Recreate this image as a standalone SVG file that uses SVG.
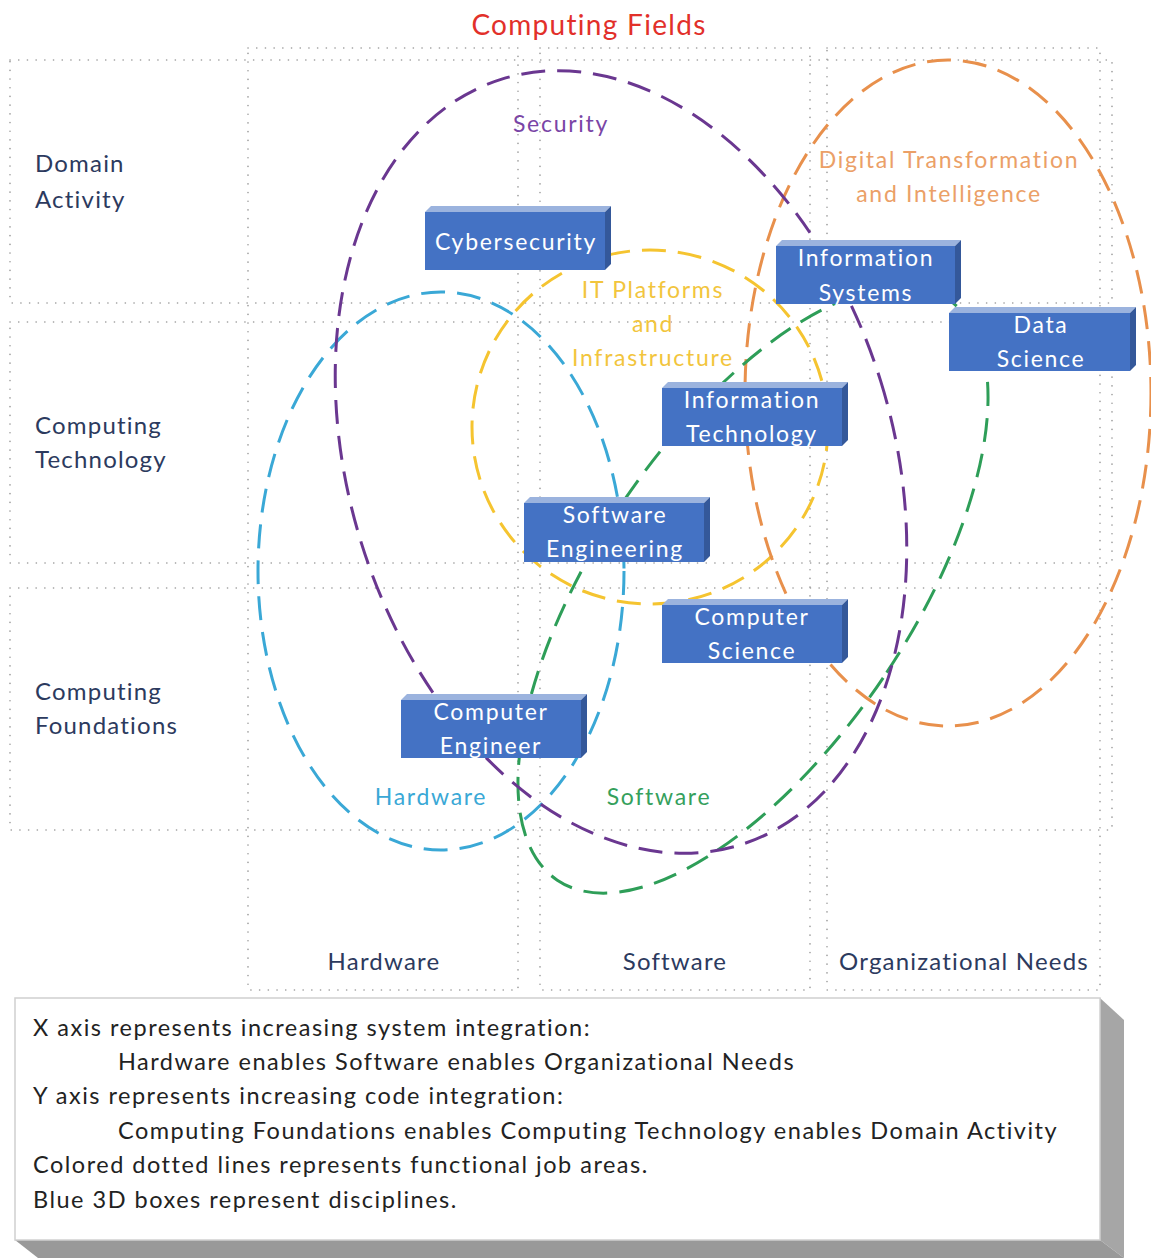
<svg xmlns="http://www.w3.org/2000/svg" width="1151" height="1260" viewBox="0 0 1151 1260">
  <defs>
    <style>
      .grid { fill: none; stroke: #9a9a9a; stroke-width: 1.6; stroke-dasharray: 0.1 8.6; stroke-linecap: round; }
      .area { fill: none; stroke-width: 3; stroke-dasharray: 24 12; }
      .t { font-family: Lato, "Open Sans", "Liberation Sans", sans-serif; }
      .axis { font-size: 24px; fill: #2c3a5e; letter-spacing: 1.2px; }
      .lbl { font-size: 23px; text-anchor: middle; letter-spacing: 1.7px; }
      .box-front { fill: #4472c4; }
      .box-top { fill: #9bb3de; }
      .box-side { fill: #34589a; }
      .btxt { font-size: 23px; fill: #ffffff; text-anchor: middle; letter-spacing: 1.7px; }
      .legend { font-size: 23.5px; fill: #222222; letter-spacing: 1.5px; }
    </style>
  </defs>

  <rect x="0" y="0" width="1151" height="1260" fill="#ffffff"/>

  <!-- Title -->
  <text class="t" x="589" y="35" font-size="28" fill="#e2302a" text-anchor="middle" letter-spacing="1.3">Computing Fields</text>

  <!-- Dotted grid: columns and rows -->
  <g id="grid">
    <rect class="grid" x="248" y="48" width="270" height="942"/>
    <rect class="grid" x="540" y="48" width="270" height="942"/>
    <rect class="grid" x="827" y="48" width="273" height="942"/>
    <rect class="grid" x="10" y="60" width="1102" height="243"/>
    <rect class="grid" x="10" y="322" width="1102" height="241"/>
    <rect class="grid" x="10" y="588" width="1102" height="242"/>
  </g>

  <!-- Axis labels -->
  <g id="row-labels" class="t axis">
    <text x="35" y="172">Domain</text>
    <text x="35" y="208">Activity</text>
    <text x="35" y="434">Computing</text>
    <text x="35" y="468">Technology</text>
    <text x="35" y="700">Computing</text>
    <text x="35" y="734">Foundations</text>
  </g>
  <g id="col-labels" class="t axis" text-anchor="middle">
    <text x="384" y="970">Hardware</text>
    <text x="675" y="970">Software</text>
    <text x="964" y="970">Organizational Needs</text>
  </g>

  <!-- Functional job areas -->
  <g id="connectors">
    <ellipse class="area" cx="441" cy="571" rx="183" ry="279" stroke="#3aa8d6"/>
    <ellipse class="area" cx="650" cy="427" rx="178" ry="177" stroke="#f5c430"/>
    <ellipse class="area" cx="948" cy="393" rx="203" ry="333" stroke="#e8904c"/>
    <ellipse class="area" cx="753" cy="590" rx="157" ry="350" stroke="#2e9e58" transform="rotate(34 753 590)"/>
    <ellipse class="area" cx="621" cy="462" rx="272" ry="401" stroke="#6a3790" transform="rotate(-17.3 621 462)"/>
  </g>

  <!-- Area labels -->
  <g id="area-labels" class="t lbl">
    <text x="561" y="132" fill="#7a45a6">Security</text>
    <text x="949" y="168" fill="#eba067">Digital Transformation</text>
    <text x="949" y="202" fill="#eba067">and Intelligence</text>
    <text x="653" y="298" fill="#f2c53d">IT Platforms</text>
    <text x="653" y="332" fill="#f2c53d">and</text>
    <text x="653" y="366" fill="#f2c53d">Infrastructure</text>
    <text x="431" y="805" fill="#3aa8d6">Hardware</text>
    <text x="659" y="805" fill="#35a05c">Software</text>
  </g>

  <!-- Disciplines (3D boxes) -->
  <g id="cybersecurity">
    <polygon class="box-top" points="425,212 431,206 611,206 605,212"/>
    <polygon class="box-side" points="605,212 611,206 611,264 605,270"/>
    <rect class="box-front" x="425" y="212" width="180" height="58"/>
    <text class="t btxt" x="516" y="250">Cybersecurity</text>
  </g>
  <g id="information-systems">
    <polygon class="box-top" points="776,246 782,240 961,240 955,246"/>
    <polygon class="box-side" points="955,246 961,240 961,298 955,304"/>
    <rect class="box-front" x="776" y="246" width="179" height="58"/>
    <text class="t btxt" x="866" y="266">Information</text>
    <text class="t btxt" x="866" y="301">Systems</text>
  </g>
  <g id="data-science">
    <polygon class="box-top" points="949,313 955,307 1136,307 1130,313"/>
    <polygon class="box-side" points="1130,313 1136,307 1136,365 1130,371"/>
    <rect class="box-front" x="949" y="313" width="181" height="58"/>
    <text class="t btxt" x="1041" y="333">Data</text>
    <text class="t btxt" x="1041" y="367">Science</text>
  </g>
  <g id="information-technology">
    <polygon class="box-top" points="662,388 668,382 848,382 842,388"/>
    <polygon class="box-side" points="842,388 848,382 848,440 842,446"/>
    <rect class="box-front" x="662" y="388" width="180" height="58"/>
    <text class="t btxt" x="752" y="408">Information</text>
    <text class="t btxt" x="752" y="442">Technology</text>
  </g>
  <g id="software-engineering">
    <polygon class="box-top" points="524,503 530,497 710,497 704,503"/>
    <polygon class="box-side" points="704,503 710,497 710,556 704,562"/>
    <rect class="box-front" x="524" y="503" width="180" height="59"/>
    <text class="t btxt" x="615" y="523">Software</text>
    <text class="t btxt" x="615" y="557">Engineering</text>
  </g>
  <g id="computer-science">
    <polygon class="box-top" points="662,605 668,599 848,599 842,605"/>
    <polygon class="box-side" points="842,605 848,599 848,657 842,663"/>
    <rect class="box-front" x="662" y="605" width="180" height="58"/>
    <text class="t btxt" x="752" y="625">Computer</text>
    <text class="t btxt" x="752" y="659">Science</text>
  </g>
  <g id="computer-engineer">
    <polygon class="box-top" points="401,700 407,694 587,694 581,700"/>
    <polygon class="box-side" points="581,700 587,694 587,752 581,758"/>
    <rect class="box-front" x="401" y="700" width="180" height="58"/>
    <text class="t btxt" x="491" y="720">Computer</text>
    <text class="t btxt" x="491" y="754">Engineer</text>
  </g>

  <!-- Legend panel -->
  <g id="legend">
    <polygon points="1100,998 1124,1020 1124,1258 1100,1240" fill="#a6a6a6"/>
    <polygon points="15,1240 38,1258 1124,1258 1100,1240" fill="#999999"/>
    <rect x="15" y="998" width="1085" height="242" fill="#ffffff" stroke="#d0d0d0" stroke-width="1.5"/>
    <g class="t legend">
      <text x="33" y="1036">X axis represents increasing system integration:</text>
      <text x="118" y="1070">Hardware enables Software enables Organizational Needs</text>
      <text x="33" y="1104">Y axis represents increasing code integration:</text>
      <text x="118" y="1139">Computing Foundations enables Computing Technology enables Domain Activity</text>
      <text x="33" y="1173">Colored dotted lines represents functional job areas.</text>
      <text x="33" y="1208">Blue 3D boxes represent disciplines.</text>
    </g>
  </g>
</svg>
